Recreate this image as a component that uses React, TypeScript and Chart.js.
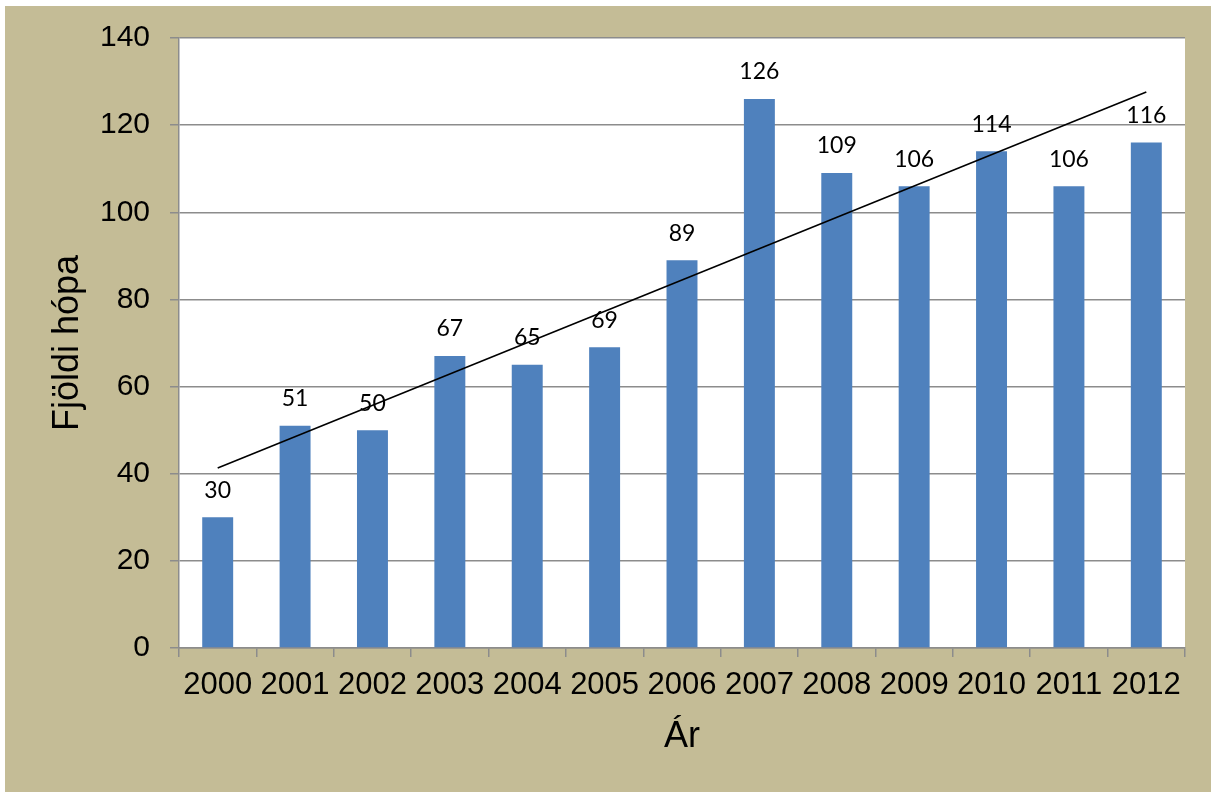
import React, { useEffect, useRef } from "react";
import { Chart, registerables } from "chart.js";

Chart.register(...registerables);

const years = ["2000", "2001", "2002", "2003", "2004", "2005", "2006", "2007", "2008", "2009", "2010", "2011", "2012"];
const groupCounts = [30, 51, 50, 67, 65, 69, 89, 126, 109, 106, 114, 106, 116];
const trendValues = [41.3, null, null, null, null, null, null, null, null, null, null, null, 127.6];
const yTicks = [0, 20, 40, 60, 80, 100, 120, 140];
const yTitle = "Fjöldi hópa";
const xTitle = "Ár";

const TAN = "#C4BC96";
const GRID = "#8C8C8C";

export default function App() {
  const ref = useRef<HTMLCanvasElement | null>(null);

  useEffect(() => {
    if (!ref.current) return;
    const bgPlugin = {
      id: "bg",
      beforeDraw(chart: any) {
        const { ctx, chartArea } = chart;
        ctx.save();
        ctx.fillStyle = "#ffffff";
        ctx.fillRect(0, 0, chart.width, chart.height);
        ctx.fillStyle = TAN;
        ctx.fillRect(5, 6, chart.width - 5, chart.height - 6);
        ctx.fillStyle = "#ffffff";
        ctx.fillRect(chartArea.left, chartArea.top, chartArea.right - chartArea.left, chartArea.bottom - chartArea.top);
        ctx.restore();
      },
    };
    const labelPlugin = {
      id: "valueLabels",
      afterDatasetsDraw(chart: any) {
        const { ctx } = chart;
        const meta = chart.getDatasetMeta(0);
        ctx.save();
        ctx.fillStyle = "#000";
        ctx.font = "23px Lato";
        ctx.textAlign = "center";
        ctx.textBaseline = "middle";
        meta.data.forEach((bar: any, i: number) => {
          ctx.fillText(String(groupCounts[i]), bar.x, bar.y - 27);
        });
        ctx.restore();
      },
    };
    const chart = new Chart(ref.current, {
      type: "bar",
      data: {
        labels: years,
        datasets: [
          {
            type: "bar",
            data: groupCounts,
            backgroundColor: "#4F81BD",
            barPercentage: 0.4,
            categoryPercentage: 1,
            order: 1,
          } as any,
          {
            type: "line",
            data: trendValues,
            borderColor: "#000",
            borderWidth: 1.6,
            pointRadius: 0,
            spanGaps: true,
            fill: false,
            order: 0,
          } as any,
        ],
      },
      options: {
        animation: false,
        responsive: false,
        layout: { padding: { left: 46, top: 37, right: 26, bottom: 33 } },
        plugins: { legend: { display: false }, tooltip: { enabled: false } },
        scales: {
          x: {
            offset: true,
            grid: { offset: true, drawOnChartArea: false, drawTicks: true, tickLength: 9, color: GRID, lineWidth: 1.5 },
            border: { display: true, color: GRID, width: 1.5 },
            ticks: { color: "#000", font: { family: "Liberation Sans", size: 31 }, padding: 10, maxRotation: 0, autoSkip: false },
            title: { display: true, text: xTitle, color: "#000", font: { family: "Liberation Sans", size: 36 }, padding: 0 },
            afterFit(scale: any) {
              scale.height = 111;
            },
          },
          y: {
            min: 0,
            max: 140,
            afterBuildTicks(scale: any) {
              scale.ticks = yTicks.map((v) => ({ value: v }));
            },
            grid: { color: GRID, lineWidth: 1.5, tickLength: 9, drawTicks: true },
            border: { display: true, color: GRID, width: 1.5 },
            ticks: { color: "#000", font: { family: "Liberation Sans", size: 30 }, padding: 20 },
            title: { display: true, text: yTitle, color: "#000", font: { family: "Liberation Sans", size: 36 }, padding: 0 },
            afterFit(scale: any) {
              scale.width = 133;
            },
          },
        },
      },
      plugins: [bgPlugin, labelPlugin],
    });
    return () => chart.destroy();
  }, []);

  return (
    <div style={{ position: "fixed", left: 0, top: 0, width: 1211, height: 792, background: "#fff" }}>
      <canvas ref={ref} width={1211} height={792} style={{ display: "block" }} />
    </div>
  );
}
